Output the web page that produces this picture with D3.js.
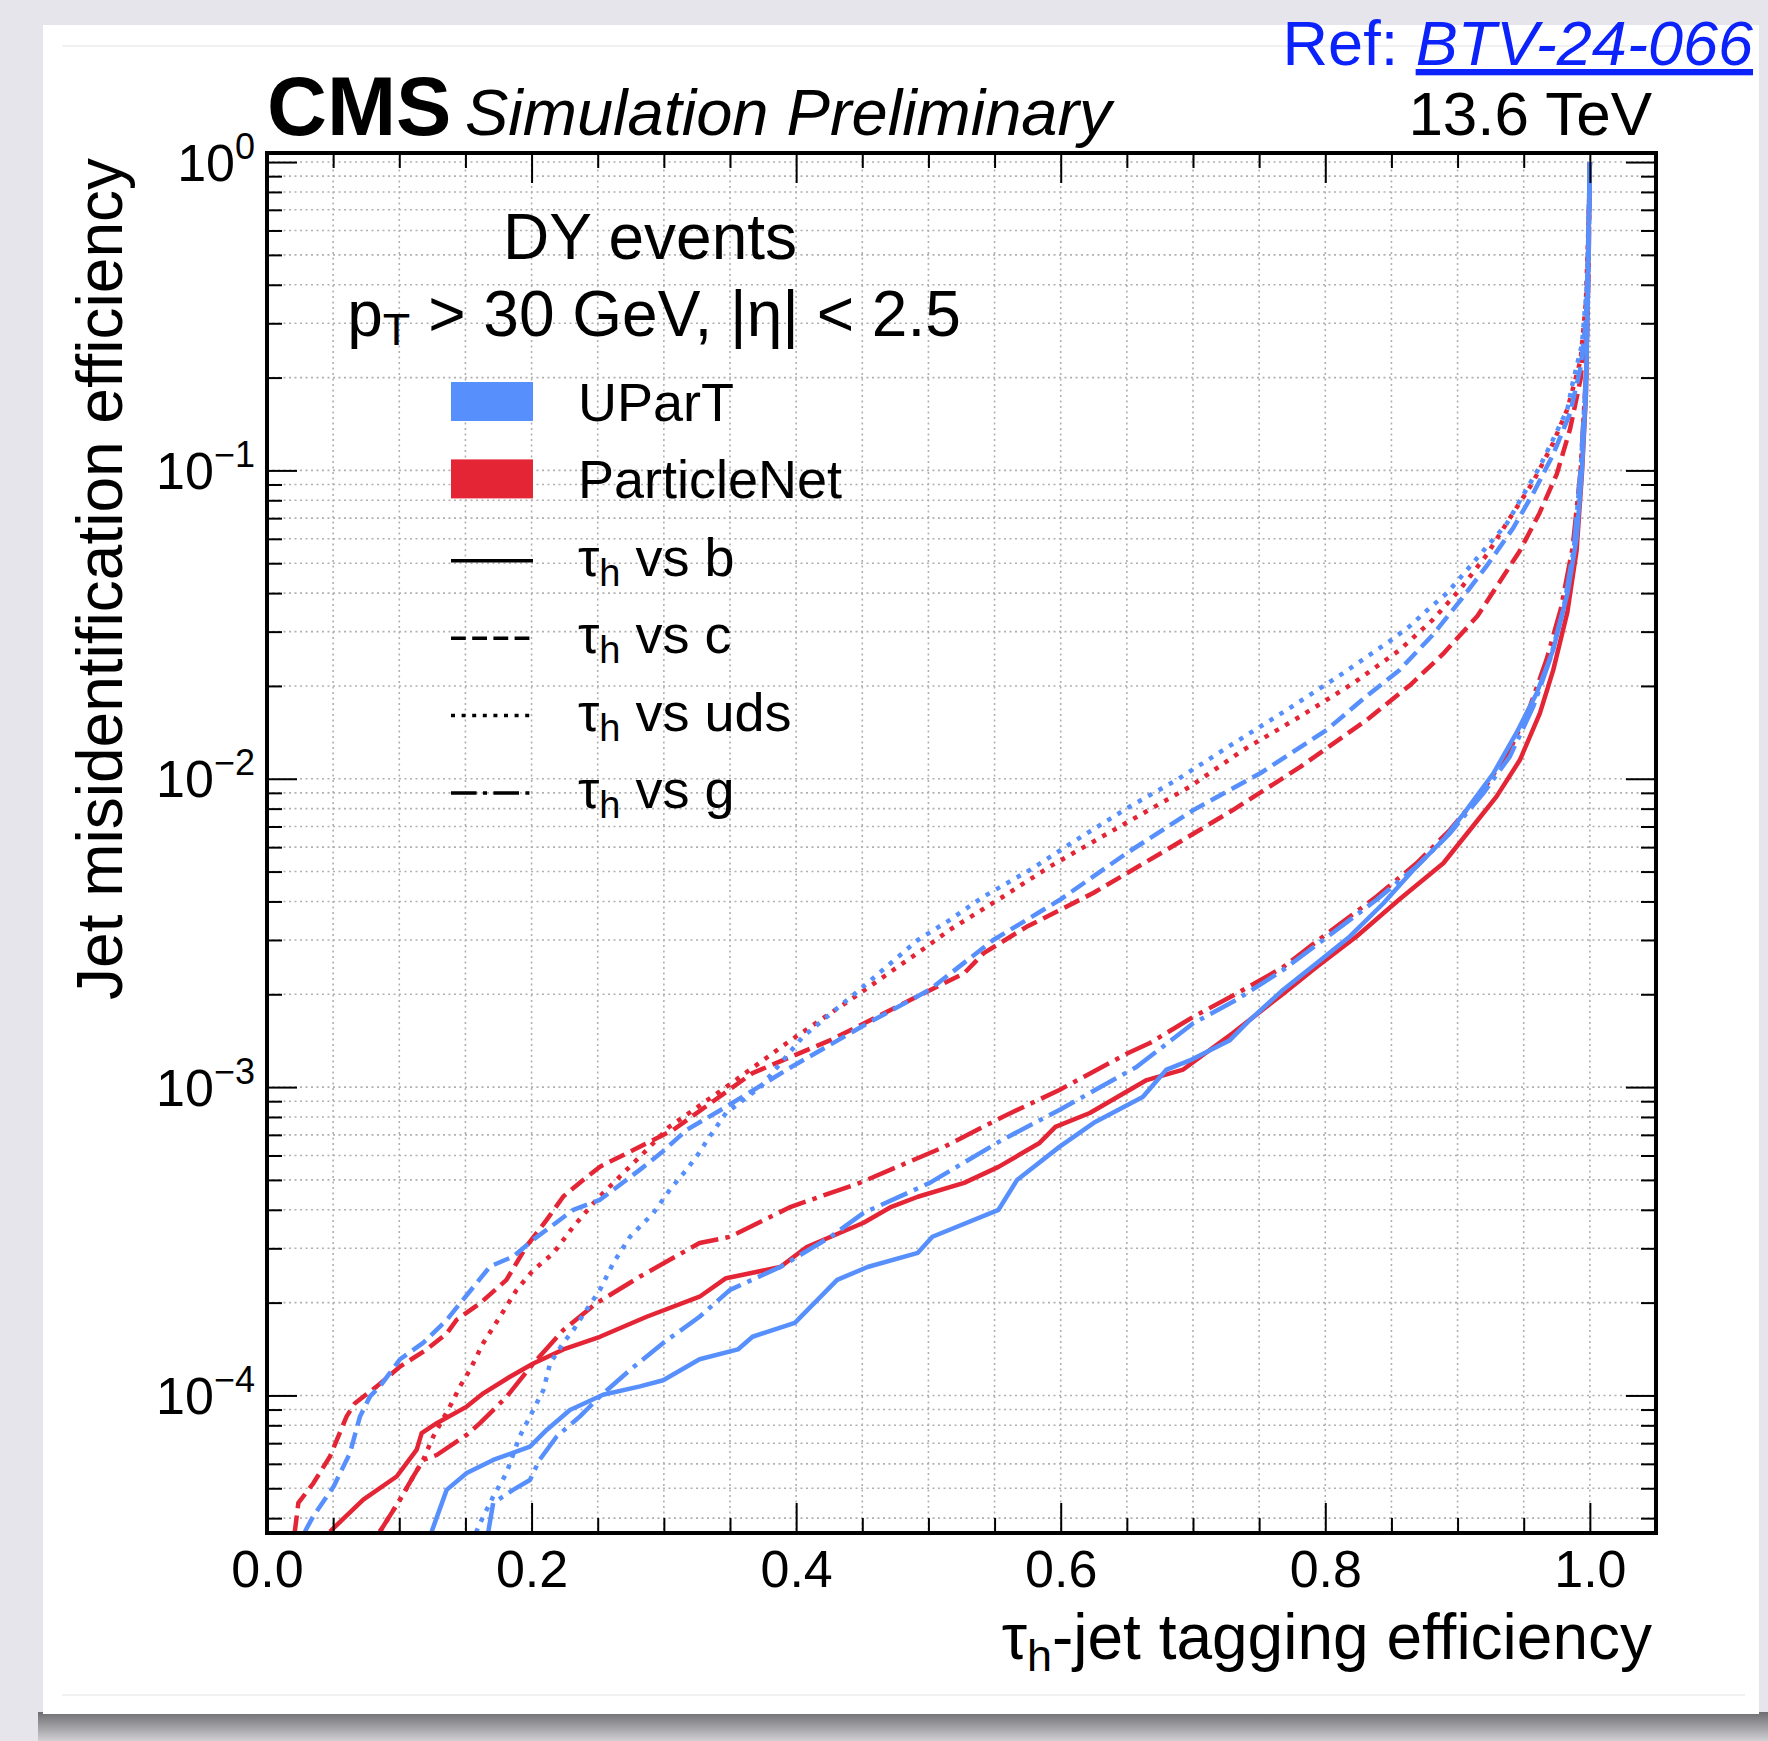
<!DOCTYPE html>
<html>
<head>
<meta charset="utf-8">
<script src="https://cdn.jsdelivr.net/npm/d3@7"></script>
<style>
  html, body { margin: 0; padding: 0; background: #e5e4ea; }
  svg { display: block; }
  text { font-family: "Liberation Sans", Arial, Helvetica, sans-serif; }
</style>
</head>
<body>
<div id="chart"></div>
<script>
// ROC curves: [tau_h tagging efficiency, jet misidentification efficiency]
var upartVsB = [[0.1245,3.62e-5],[0.1358,4.94e-5],[0.151,5.60e-5],[0.171,6.18e-5],[0.1988,6.82e-5],[0.2114,7.73e-5],[0.229,8.97e-5],[0.254,1.005e-4],[0.282,1.07e-4],[0.2995,1.12e-4],[0.327,1.31e-4],[0.356,1.41e-4],[0.367,1.55e-4],[0.399,1.72e-4],[0.431,2.37e-4],[0.454,2.61e-4],[0.492,2.90e-4],[0.503,3.27e-4],[0.553,4.00e-4],[0.567,5.00e-4],[0.599,6.40e-4],[0.625,7.66e-4],[0.662,9.29e-4],[0.680,1.14e-3],[0.6976,1.22e-3],[0.7279,1.42e-3],[0.743,1.65e-3],[0.7682,2.07e-3],[0.7934,2.52e-3],[0.8186,3.08e-3],[0.8438,3.94e-3],[0.8665,5.06e-3],[0.8892,6.34e-3],[0.9068,7.93e-3],[0.927,1.04e-2],[0.9446,1.41e-2],[0.9597,1.89e-2],[0.9723,2.62e-2],[0.983,3.98e-2],[0.990,6.03e-2],[0.994,0.1],[0.997,0.178],[0.9985,0.398],[1.0,1.0]];
var pnetVsB = [[0.0476,3.62e-5],[0.0728,4.59e-5],[0.098,5.46e-5],[0.1132,6.67e-5],[0.1169,7.55e-5],[0.1283,8.13e-5],[0.151,9.20e-5],[0.1635,1.016e-4],[0.1837,1.15e-4],[0.2013,1.27e-4],[0.224,1.41e-4],[0.2517,1.55e-4],[0.287,1.80e-4],[0.327,2.09e-4],[0.347,2.40e-4],[0.388,2.61e-4],[0.408,3.03e-4],[0.451,3.63e-4],[0.472,4.09e-4],[0.492,4.41e-4],[0.527,4.89e-4],[0.553,5.51e-4],[0.584,6.59e-4],[0.596,7.43e-4],[0.622,8.24e-4],[0.665,1.054e-3],[0.6926,1.14e-3],[0.7304,1.50e-3],[0.7682,2.01e-3],[0.7934,2.45e-3],[0.8236,3.08e-3],[0.8557,4.05e-3],[0.8892,5.32e-3],[0.9093,6.82e-3],[0.9294,8.75e-3],[0.9471,1.15e-2],[0.9622,1.63e-2],[0.9723,2.25e-2],[0.983,3.47e-2],[0.990,5.50e-2],[0.994,9.77e-2],[0.997,0.174],[0.9985,0.398],[1.0,1.0]];
var upartVsC = [[0.0287,3.62e-5],[0.035,4.06e-5],[0.0504,5.07e-5],[0.0627,6.50e-5],[0.0703,8.55e-5],[0.0779,9.93e-5],[0.0854,1.07e-4],[0.1005,1.31e-4],[0.118,1.48e-4],[0.136,1.76e-4],[0.146,1.99e-4],[0.1686,2.62e-4],[0.186,2.82e-4],[0.2013,3.20e-4],[0.2316,4.00e-4],[0.2517,4.31e-4],[0.282,5.40e-4],[0.298,6.12e-4],[0.3172,7.26e-4],[0.347,8.63e-4],[0.396,1.16e-3],[0.454,1.61e-3],[0.501,2.07e-3],[0.549,3.00e-3],[0.5994,4.05e-3],[0.6497,5.73e-3],[0.7002,7.91e-3],[0.7505,1.04e-2],[0.801,1.44e-2],[0.831,1.85e-2],[0.856,2.25e-2],[0.881,2.92e-2],[0.902,3.78e-2],[0.922,4.90e-2],[0.942,6.50e-2],[0.957,8.40e-2],[0.972,0.112],[0.985,0.153],[0.993,0.216],[0.997,0.305],[0.999,0.562],[1.0,1.0]];
var pnetVsC = [[0.021,3.61e-5],[0.0237,4.48e-5],[0.035,5.19e-5],[0.0476,6.34e-5],[0.0602,8.55e-5],[0.0665,9.44e-5],[0.083,1.07e-4],[0.1005,1.24e-4],[0.1207,1.41e-4],[0.136,1.59e-4],[0.1434,1.76e-4],[0.161,1.99e-4],[0.181,2.37e-4],[0.196,3.04e-4],[0.2114,3.71e-4],[0.224,4.42e-4],[0.239,5.00e-4],[0.2517,5.52e-4],[0.2769,6.25e-4],[0.307,7.26e-4],[0.367,1.11e-3],[0.426,1.42e-3],[0.497,2.02e-3],[0.527,2.34e-3],[0.5418,2.72e-3],[0.5742,3.31e-3],[0.6246,4.26e-3],[0.680,5.88e-3],[0.7304,7.93e-3],[0.7808,1.09e-2],[0.8312,1.55e-2],[0.864,2.01e-2],[0.889,2.54e-2],[0.915,3.37e-2],[0.932,4.36e-2],[0.947,5.48e-2],[0.962,7.28e-2],[0.975,9.73e-2],[0.985,0.136],[0.993,0.198],[0.997,0.305],[0.999,0.562],[1.0,1.0]];
var upartVsUds = [[0.158,3.59e-5],[0.161,3.85e-5],[0.171,4.70e-5],[0.181,5.60e-5],[0.191,7.36e-5],[0.1988,8.55e-5],[0.2089,1.04e-4],[0.214,1.27e-4],[0.224,1.48e-4],[0.2316,1.63e-4],[0.2417,1.90e-4],[0.2517,2.20e-4],[0.2618,2.69e-4],[0.2744,3.27e-4],[0.292,3.90e-4],[0.3046,4.65e-4],[0.3172,5.40e-4],[0.3248,5.96e-4],[0.333,6.75e-4],[0.347,8.24e-4],[0.373,1.00e-3],[0.405,1.455e-3],[0.448,2.07e-3],[0.492,3.00e-3],[0.516,3.48e-3],[0.5418,4.15e-3],[0.5767,5.06e-3],[0.612,6.34e-3],[0.6523,8.13e-3],[0.6876,9.91e-3],[0.7304,1.30e-2],[0.7707,1.67e-2],[0.8135,2.20e-2],[0.849,2.80e-2],[0.864,3.13e-2],[0.877,3.52e-2],[0.892,4.00e-2],[0.907,4.75e-2],[0.922,5.65e-2],[0.937,6.70e-2],[0.952,8.67e-2],[0.962,0.1025],[0.972,0.1256],[0.983,0.158],[0.987,0.192],[0.994,0.256],[0.998,0.406],[1.0,1.0]];
var pnetVsUds = [[0.0854,3.62e-5],[0.1005,4.59e-5],[0.1106,5.46e-5],[0.118,6.18e-5],[0.1257,7.36e-5],[0.1396,9.44e-5],[0.1459,1.07e-4],[0.1534,1.21e-4],[0.1635,1.48e-4],[0.1761,1.80e-4],[0.1887,2.20e-4],[0.2013,2.55e-4],[0.2164,2.89e-4],[0.2316,3.53e-4],[0.249,4.31e-4],[0.2693,5.26e-4],[0.287,6.25e-4],[0.304,7.43e-4],[0.347,1.00e-3],[0.396,1.42e-3],[0.45,2.04e-3],[0.497,2.82e-3],[0.5163,3.24e-3],[0.5566,4.15e-3],[0.5918,5.19e-3],[0.6271,6.34e-3],[0.6624,7.73e-3],[0.6976,9.42e-3],[0.738,1.24e-2],[0.7808,1.59e-2],[0.8211,2.04e-2],[0.856,2.61e-2],[0.881,3.27e-2],[0.902,4.12e-2],[0.922,5.32e-2],[0.942,7.28e-2],[0.957,9.16e-2],[0.972,0.122],[0.983,0.158],[0.993,0.228],[0.997,0.352],[0.999,0.631],[1.0,1.0]];
var upartVsG = [[0.1673,3.62e-5],[0.171,4.48e-5],[0.186,4.94e-5],[0.1988,5.32e-5],[0.206,6.18e-5],[0.219,7.36e-5],[0.2366,8.55e-5],[0.2517,9.93e-5],[0.2744,1.21e-4],[0.2995,1.48e-4],[0.327,1.80e-4],[0.350,2.20e-4],[0.388,2.61e-4],[0.426,3.27e-4],[0.451,3.91e-4],[0.501,4.89e-4],[0.556,6.75e-4],[0.599,8.43e-4],[0.657,1.16e-3],[0.7002,1.61e-3],[0.733,1.92e-3],[0.7682,2.40e-3],[0.7984,3.00e-3],[0.8388,4.05e-3],[0.869,5.19e-3],[0.8942,6.65e-3],[0.9194,8.97e-3],[0.9395,1.18e-2],[0.9571,1.71e-2],[0.9698,2.43e-2],[0.98,3.55e-2],[0.988,5.62e-2],[0.993,0.1],[0.997,0.2],[0.999,0.447],[1.0,1.0]];
var pnetVsG = [[0.0854,3.62e-5],[0.1005,4.59e-5],[0.1106,5.46e-5],[0.1181,6.18e-5],[0.1283,6.41e-5],[0.151,7.45e-5],[0.161,8.13e-5],[0.1812,9.91e-5],[0.2013,1.27e-4],[0.224,1.63e-4],[0.249,1.99e-4],[0.282,2.43e-4],[0.327,3.12e-4],[0.350,3.27e-4],[0.396,4.09e-4],[0.448,4.89e-4],[0.512,6.40e-4],[0.556,8.00e-4],[0.599,9.79e-4],[0.651,1.29e-3],[0.6674,1.39e-3],[0.7002,1.69e-3],[0.733,2.01e-3],[0.7682,2.45e-3],[0.7984,3.08e-3],[0.8388,4.15e-3],[0.869,5.32e-3],[0.8942,6.82e-3],[0.9194,9.20e-3],[0.9395,1.24e-2],[0.9546,1.71e-2],[0.9672,2.43e-2],[0.978,3.55e-2],[0.987,5.62e-2],[0.993,0.1],[0.997,0.2],[0.999,0.447],[1.0,1.0]];

var models = ["UParT", "ParticleNet"];
var backgrounds = ["b", "c", "uds", "g"];
var xMajorTicks = [0.0, 0.2, 0.4, 0.6, 0.8, 1.0];
var yMajorTicks = [1e-4, 1e-3, 1e-2, 1e-1, 1];
var yTickExponents = ["\u22124", "\u22123", "\u22122", "\u22121", "0"];

var modelColor = {"UParT": "#5790fc", "ParticleNet": "#e42536"};
var bkgDash = {"b": null, "c": "16.6,7.2", "uds": "4.5,7.4", "g": "28.8,7.2,4.5,7.2"};
var legendDash = {"b": null, "c": "14.8,6.4", "uds": "4,6.6", "g": "25.6,6.4,4,6.4"};

// ParticleNet drawn first, UParT on top
var curves = [
  {model: "ParticleNet", bkg: "b", data: pnetVsB},
  {model: "ParticleNet", bkg: "c", data: pnetVsC},
  {model: "ParticleNet", bkg: "uds", data: pnetVsUds},
  {model: "ParticleNet", bkg: "g", data: pnetVsG},
  {model: "UParT", bkg: "b", data: upartVsB},
  {model: "UParT", bkg: "c", data: upartVsC},
  {model: "UParT", bkg: "uds", data: upartVsUds},
  {model: "UParT", bkg: "g", data: upartVsG}
];

var W = 1768, H = 1741;
var pLeft = 267, pRight = 1656, pTop = 153, pBottom = 1533;

var svg = d3.select("#chart")
  .append("svg")
    .attr("width", W)
    .attr("height", H);

// slide background + card
var defs = svg.append("defs");
var sh = defs.append("linearGradient").attr("id", "shadowGrad")
  .attr("x1", 0).attr("y1", 0).attr("x2", 0).attr("y2", 1);
sh.append("stop").attr("offset", "0%").attr("stop-color", "#6e6e72");
sh.append("stop").attr("offset", "100%").attr("stop-color", "#cfcfd4");

svg.append("rect").attr("width", W).attr("height", H).attr("fill", "#e6e5eb");
svg.append("rect").attr("x", 38).attr("y", 1712).attr("width", W - 38).attr("height", H - 1712)
  .attr("fill", "url(#shadowGrad)");
svg.append("rect").attr("x", 43).attr("y", 25).attr("width", 1716).attr("height", 1689)
  .attr("fill", "#ffffff");
svg.append("line").attr("x1", 62).attr("x2", 1745).attr("y1", 46).attr("y2", 46)
  .attr("stroke", "#ececec").attr("stroke-width", 1.5);
svg.append("line").attr("x1", 62).attr("x2", 1745).attr("y1", 1695).attr("y2", 1695)
  .attr("stroke", "#ececec").attr("stroke-width", 1.5);

var x = d3.scaleLinear()
  .domain([0, 1.05])
  .range([pLeft, pRight]);

var y = d3.scaleLog()
  .domain([3.58e-5, 1.07])
  .range([pBottom, pTop]);

// grid
var xGrid = d3.range(1, 21).map(function(i) { return i * 0.05; });
var yGrid = [];
[-5, -4, -3, -2, -1, 0].forEach(function(e) {
  for (var k = 1; k <= 9; k++) {
    var v = k * Math.pow(10, e);
    if (v > 3.6e-5 && v < 1.05) yGrid.push(v);
  }
});
var yMinorTicks = yGrid.filter(function(v) {
  return Math.abs(Math.log10(v) - Math.round(Math.log10(v))) > 1e-6;
});

var grid = svg.append("g").attr("class", "grid")
  .attr("stroke", "#b0b0b0").attr("stroke-width", 1.6).attr("stroke-dasharray", "2,3.5");
grid.selectAll("line.gx").data(xGrid).enter().append("line")
  .attr("x1", function(d) { return x(d); }).attr("x2", function(d) { return x(d); })
  .attr("y1", pTop).attr("y2", pBottom);
grid.selectAll("line.gy").data(yGrid).enter().append("line")
  .attr("y1", function(d) { return y(d); }).attr("y2", function(d) { return y(d); })
  .attr("x1", pLeft).attr("x2", pRight);

// curves
defs.append("clipPath").attr("id", "plotClip")
  .append("rect").attr("x", pLeft).attr("y", pTop).attr("width", pRight - pLeft).attr("height", pBottom - pTop);

var line = d3.line()
  .x(function(d) { return x(d[0]); })
  .y(function(d) { return y(d[1]); });

svg.append("g").attr("clip-path", "url(#plotClip)")
  .selectAll("path").data(curves).enter().append("path")
    .attr("d", function(d) { return line(d.data); })
    .attr("fill", "none")
    .attr("stroke", function(d) { return modelColor[d.model]; })
    .attr("stroke-width", 4.5)
    .attr("stroke-dasharray", function(d) { return bkgDash[d.bkg]; })
    .attr("stroke-linejoin", "round");

// axes ticks (inward, on all four sides)
function styleAxis(g) {
  g.select(".domain").remove();
  g.selectAll(".tick line").attr("stroke", "#000").attr("stroke-width", 2);
}
var xMinor = d3.range(0, 22).map(function(i) { return i * 0.05; })
  .filter(function(v) { return Math.abs(v * 5 - Math.round(v * 5)) > 1e-6; });

svg.append("g").attr("transform", "translate(0," + pBottom + ")")
  .call(d3.axisBottom(x).tickValues(xMajorTicks).tickSize(-30).tickPadding(17).tickFormat(d3.format(".1f")))
  .call(styleAxis)
  .attr("font-family", null).attr("font-size", 52)
  .selectAll("text").attr("fill", "#000");
svg.append("g").attr("transform", "translate(0," + pBottom + ")")
  .call(d3.axisBottom(x).tickValues(xMinor).tickSize(-15).tickFormat(""))
  .call(styleAxis);
svg.append("g").attr("transform", "translate(0," + pTop + ")")
  .call(d3.axisTop(x).tickValues(xMajorTicks).tickSize(-30).tickFormat(""))
  .call(styleAxis);
svg.append("g").attr("transform", "translate(0," + pTop + ")")
  .call(d3.axisTop(x).tickValues(xMinor).tickSize(-15).tickFormat(""))
  .call(styleAxis);
svg.append("g").attr("transform", "translate(" + pLeft + ",0)")
  .call(d3.axisLeft(y).tickValues(yMajorTicks).tickSize(-30).tickFormat(""))
  .call(styleAxis);
svg.append("g").attr("transform", "translate(" + pLeft + ",0)")
  .call(d3.axisLeft(y).tickValues(yMinorTicks).tickSize(-15).tickFormat(""))
  .call(styleAxis);
svg.append("g").attr("transform", "translate(" + pRight + ",0)")
  .call(d3.axisRight(y).tickValues(yMajorTicks).tickSize(-30).tickFormat(""))
  .call(styleAxis);
svg.append("g").attr("transform", "translate(" + pRight + ",0)")
  .call(d3.axisRight(y).tickValues(yMinorTicks).tickSize(-15).tickFormat(""))
  .call(styleAxis);

// y tick labels 10^n
var ylab = svg.append("g").selectAll("text").data(yMajorTicks).enter().append("text")
  .attr("x", 255)
  .attr("y", function(d) { return y(d) + 18.5; })
  .attr("text-anchor", "end")
  .attr("font-size", 52);
ylab.append("tspan").text("10");
ylab.append("tspan").attr("font-size", 36).attr("dy", -22)
  .text(function(d, i) { return yTickExponents[i]; });

// frame
svg.append("rect").attr("x", pLeft).attr("y", pTop)
  .attr("width", pRight - pLeft).attr("height", pBottom - pTop)
  .attr("fill", "none").attr("stroke", "#000").attr("stroke-width", 4);

// axis labels
var xl = svg.append("text").attr("x", 1652).attr("y", 1659)
  .attr("text-anchor", "end").attr("font-size", 64);
xl.append("tspan").text("\u03c4");
xl.append("tspan").attr("font-size", 45).attr("dy", 12).text("h");
xl.append("tspan").attr("dy", -12).text("-jet tagging efficiency");

svg.append("text")
  .attr("transform", "translate(122,158) rotate(-90)")
  .attr("text-anchor", "end")
  .attr("font-size", 64)
  .text("Jet misidentification efficiency");

// header
svg.append("text").attr("x", 267).attr("y", 135)
  .attr("font-size", 83).attr("font-weight", "bold").text("CMS");
svg.append("text").attr("x", 465).attr("y", 135)
  .attr("font-size", 65).attr("font-style", "italic").text("Simulation Preliminary");
svg.append("text").attr("x", 1652).attr("y", 135)
  .attr("text-anchor", "end").attr("font-size", 62).text("13.6 TeV");

var ref = svg.append("text").attr("x", 1753).attr("y", 65)
  .attr("text-anchor", "end").attr("font-size", 63).attr("fill", "#0b22fb");
ref.append("tspan").text("Ref: ");
ref.append("tspan").attr("font-style", "italic").attr("text-decoration", "underline").text("BTV-24-066");

// legend header
svg.append("text").attr("x", 650).attr("y", 259)
  .attr("text-anchor", "middle").attr("font-size", 64).text("DY events");
var sel = svg.append("text").attr("x", 654).attr("y", 336)
  .attr("text-anchor", "middle").attr("font-size", 64);
sel.append("tspan").text("p");
sel.append("tspan").attr("font-size", 45).attr("dy", 9).text("T");
sel.append("tspan").attr("dy", -9).text(" > 30 GeV, |\u03b7| < 2.5");

// legend entries
var legX = 451, legW = 82, legTextX = 578, legBase = 421, legStep = 77.4;
models.forEach(function(m, i) {
  var b = legBase + i * legStep;
  svg.append("rect").attr("x", legX).attr("y", b - 39).attr("width", legW).attr("height", 39)
    .attr("fill", modelColor[m]);
  svg.append("text").attr("x", legTextX).attr("y", b).attr("font-size", 54).text(m);
});
backgrounds.forEach(function(bk, i) {
  var b = legBase + (i + 2) * legStep;
  svg.append("line").attr("x1", legX).attr("x2", legX + legW)
    .attr("y1", b - 15).attr("y2", b - 15)
    .attr("stroke", "#000").attr("stroke-width", 3.5)
    .attr("stroke-dasharray", legendDash[bk]);
  var t = svg.append("text").attr("x", legTextX).attr("y", b).attr("font-size", 54);
  t.append("tspan").text("\u03c4");
  t.append("tspan").attr("font-size", 38).attr("dy", 10).text("h");
  t.append("tspan").attr("dy", -10).text(" vs " + bk);
});
</script>
</body>
</html>
